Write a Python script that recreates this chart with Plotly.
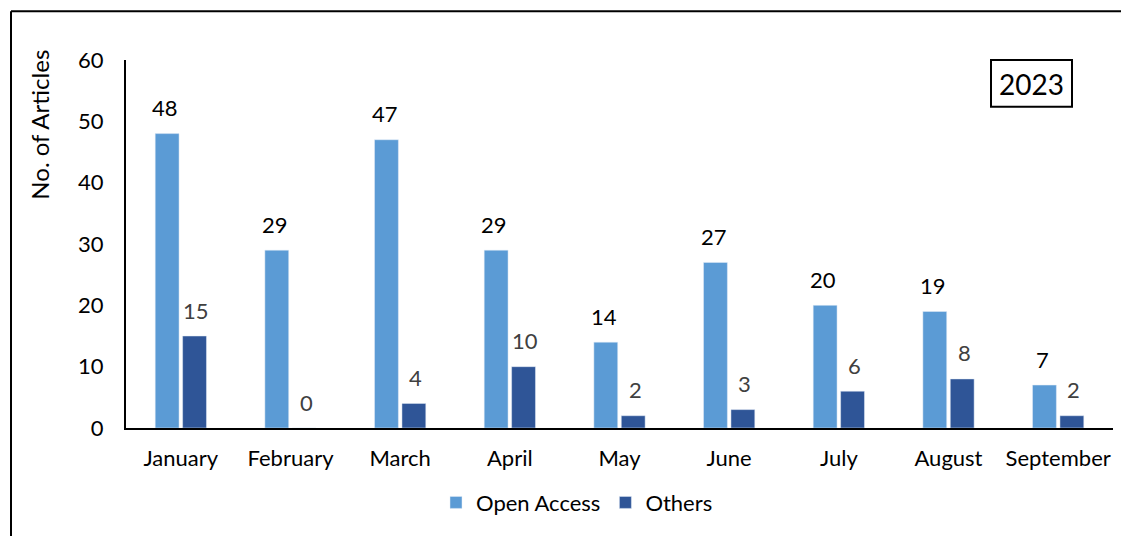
import plotly.graph_objects as go

months = ["January", "February", "March", "April", "May", "June", "July", "August", "September"]
open_access = [48, 29, 47, 29, 14, 27, 20, 19, 7]
others = [15, 0, 4, 10, 2, 3, 6, 8, 2]
y_ticks = [0, 10, 20, 30, 40, 50, 60]

FONT = "Lato, Carlito, Calibri, sans-serif"
OFF = 8  # page body margin

fig = go.Figure()
fig.add_trace(go.Bar(name="Open Access", x=months, y=open_access, marker_color="#5B9BD5"))
fig.add_trace(go.Bar(name="Others", x=months, y=others, marker_color="#2F5597"))

W, H = 1129 - OFF, 536 - OFF
L, T = 126 - OFF, 60 - OFF
pw, ph = 987, 370
R = W - L - pw
B = H - T - ph

def px(x):
    return (x - OFF - L) / pw

def py(y):
    return (T + ph - (y - OFF)) / ph

annotations = []
for m, v in zip(months, open_access):
    annotations.append(dict(x=m, y=v, xref="x", yref="y", text=str(v), showarrow=False,
                            xshift=-15.5, yshift=26, xanchor="center", yanchor="middle",
                            font=dict(size=22, family=FONT, color="#000000")))
for m, v in zip(months, others):
    annotations.append(dict(x=m, y=v, xref="x", yref="y", text=str(v), showarrow=False,
                            xshift=15.5, yshift=26, xanchor="center", yanchor="middle",
                            font=dict(size=22, family=FONT, color="#404040")))
annotations.append(dict(text="2023", xref="paper", yref="paper", x=px(1031.5), y=py(84),
                        showarrow=False, xanchor="center", yanchor="middle",
                        font=dict(size=28, family=FONT, color="#000000")))
annotations.append(dict(text="No. of Articles", xref="paper", yref="paper", x=px(40), y=py(125),
                        showarrow=False, xanchor="center", yanchor="middle", textangle=-90,
                        font=dict(size=24, family=FONT, color="#000000")))

fig.update_layout(
    width=W, height=H,
    margin=dict(l=L, r=R, t=T, b=B),
    paper_bgcolor="white", plot_bgcolor="white",
    font=dict(family=FONT, size=22, color="#000000"),
    barmode="group", bargap=0.5, bargroupgap=0.13,
    showlegend=True,
    legend=dict(orientation="h", x=px(577), xanchor="center", y=py(505), yanchor="middle",
                font=dict(size=22, family=FONT), traceorder="normal"),
    xaxis=dict(showline=True, linecolor="#000000", linewidth=2, showgrid=False,
               ticks="", tickfont=dict(size=22, family=FONT), ticklabelstandoff=10),
    yaxis=dict(range=[0, 60], tickvals=y_ticks, showline=True, linecolor="#000000", linewidth=2,
               showgrid=False, zeroline=False, ticks="", tickfont=dict(size=22, family=FONT),
               ticklabelstandoff=16),
    shapes=[
        dict(type="line", xref="paper", yref="paper", x0=px(11), x1=px(1140), y0=py(11), y1=py(11),
             line=dict(color="#000000", width=2)),
        dict(type="line", xref="paper", yref="paper", x0=px(11), x1=px(11), y0=py(11), y1=py(545),
             line=dict(color="#000000", width=2)),
        dict(type="rect", xref="paper", yref="paper", x0=px(991), x1=px(1072), y0=py(60), y1=py(107),
             line=dict(color="#000000", width=2), fillcolor="white"),
    ],
    annotations=annotations,
)

fig.write_html("out.html")
